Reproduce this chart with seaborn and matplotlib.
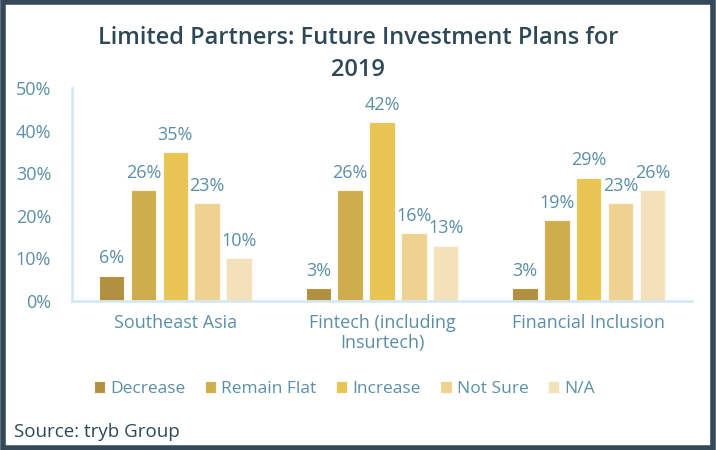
import matplotlib
matplotlib.use("Agg")
import matplotlib.pyplot as plt
import seaborn as sns
import pandas as pd
from matplotlib.patches import Rectangle

categories = ["Southeast Asia", "Fintech (including\nInsurtech)", "Financial Inclusion"]
series = ["Decrease", "Remain Flat", "Increase", "Not Sure", "N/A"]
decrease = [6, 3, 3]
remain_flat = [26, 26, 19]
increase = [35, 42, 29]
not_sure = [23, 16, 23]
na = [10, 13, 26]
yticks = [0, 10, 20, 30, 40, 50]
ytick_labels = ["0%", "10%", "20%", "30%", "40%", "50%"]

colors = ["#b09140", "#cfad4c", "#e8c454", "#efd291", "#f4e0bb"]
label_color = "#5b8fa8"
title_color = "#2f4858"

rows = []
for s, vals in zip(series, [decrease, remain_flat, increase, not_sure, na]):
    for c, v in zip(categories, vals):
        rows.append({"Category": c, "Series": s, "Value": v})
df = pd.DataFrame(rows)

sns.set_theme(style="white")
plt.rcParams["font.family"] = ["Open Sans", "DejaVu Sans"]

fig = plt.figure(figsize=(7.16, 4.5), dpi=100)
ax = fig.add_axes([0.1006, 0.331, 0.866, 0.473])

sns.barplot(data=df, x="Category", y="Value", hue="Series", order=categories,
            hue_order=series, palette=colors, saturation=1, width=0.77, gap=0.2,
            edgecolor="#fdf8ec", linewidth=0.8, ax=ax, legend=True)

for cont in ax.containers:
    labels = [f"{v:.0f}%" for v in cont.datavalues]
    ax.bar_label(cont, labels=labels, padding=6, color=label_color, fontsize=13)

ax.set_xlim(-0.5, 2.5)
ax.set_ylim(0, 50)
ax.set_yticks(yticks)
ax.set_yticklabels(ytick_labels)
ax.set_xlabel("")
ax.set_ylabel("")
ax.tick_params(axis="y", length=0, pad=15, labelcolor=label_color, labelsize=13)
ax.tick_params(axis="x", length=0, pad=9, labelcolor=label_color, labelsize=13)
for sp in ["top", "right"]:
    ax.spines[sp].set_visible(False)
for sp in ["left", "bottom"]:
    ax.spines[sp].set_color("#d6e9f2")
    ax.spines[sp].set_linewidth(2)

handles, labs = ax.get_legend_handles_labels()
ax.legend(handles, labs, loc="center", ncol=5, frameon=False,
          fontsize=12.5, labelcolor=label_color, handlelength=0.65,
          handleheight=0.65, handletextpad=0.3, columnspacing=1.12)
ax.legend_.set_bbox_to_anchor((0.481, 0.135), transform=fig.transFigure)

fig.text(0.5, 0.879, "Limited Partners: Future Investment Plans for\n2019",
         ha="center", va="center", fontsize=17, fontweight="semibold",
         color=title_color, linespacing=1.45)
fig.text(0.02, 0.04, "Source: tryb Group", ha="left", va="center",
         fontsize=13.5, color=title_color)

fig.patches.append(Rectangle((0.0035, 0.0055), 0.993, 0.989, transform=fig.transFigure,
                             fill=False, edgecolor="#34495a", linewidth=4))

fig.savefig("out.png", dpi=100)
